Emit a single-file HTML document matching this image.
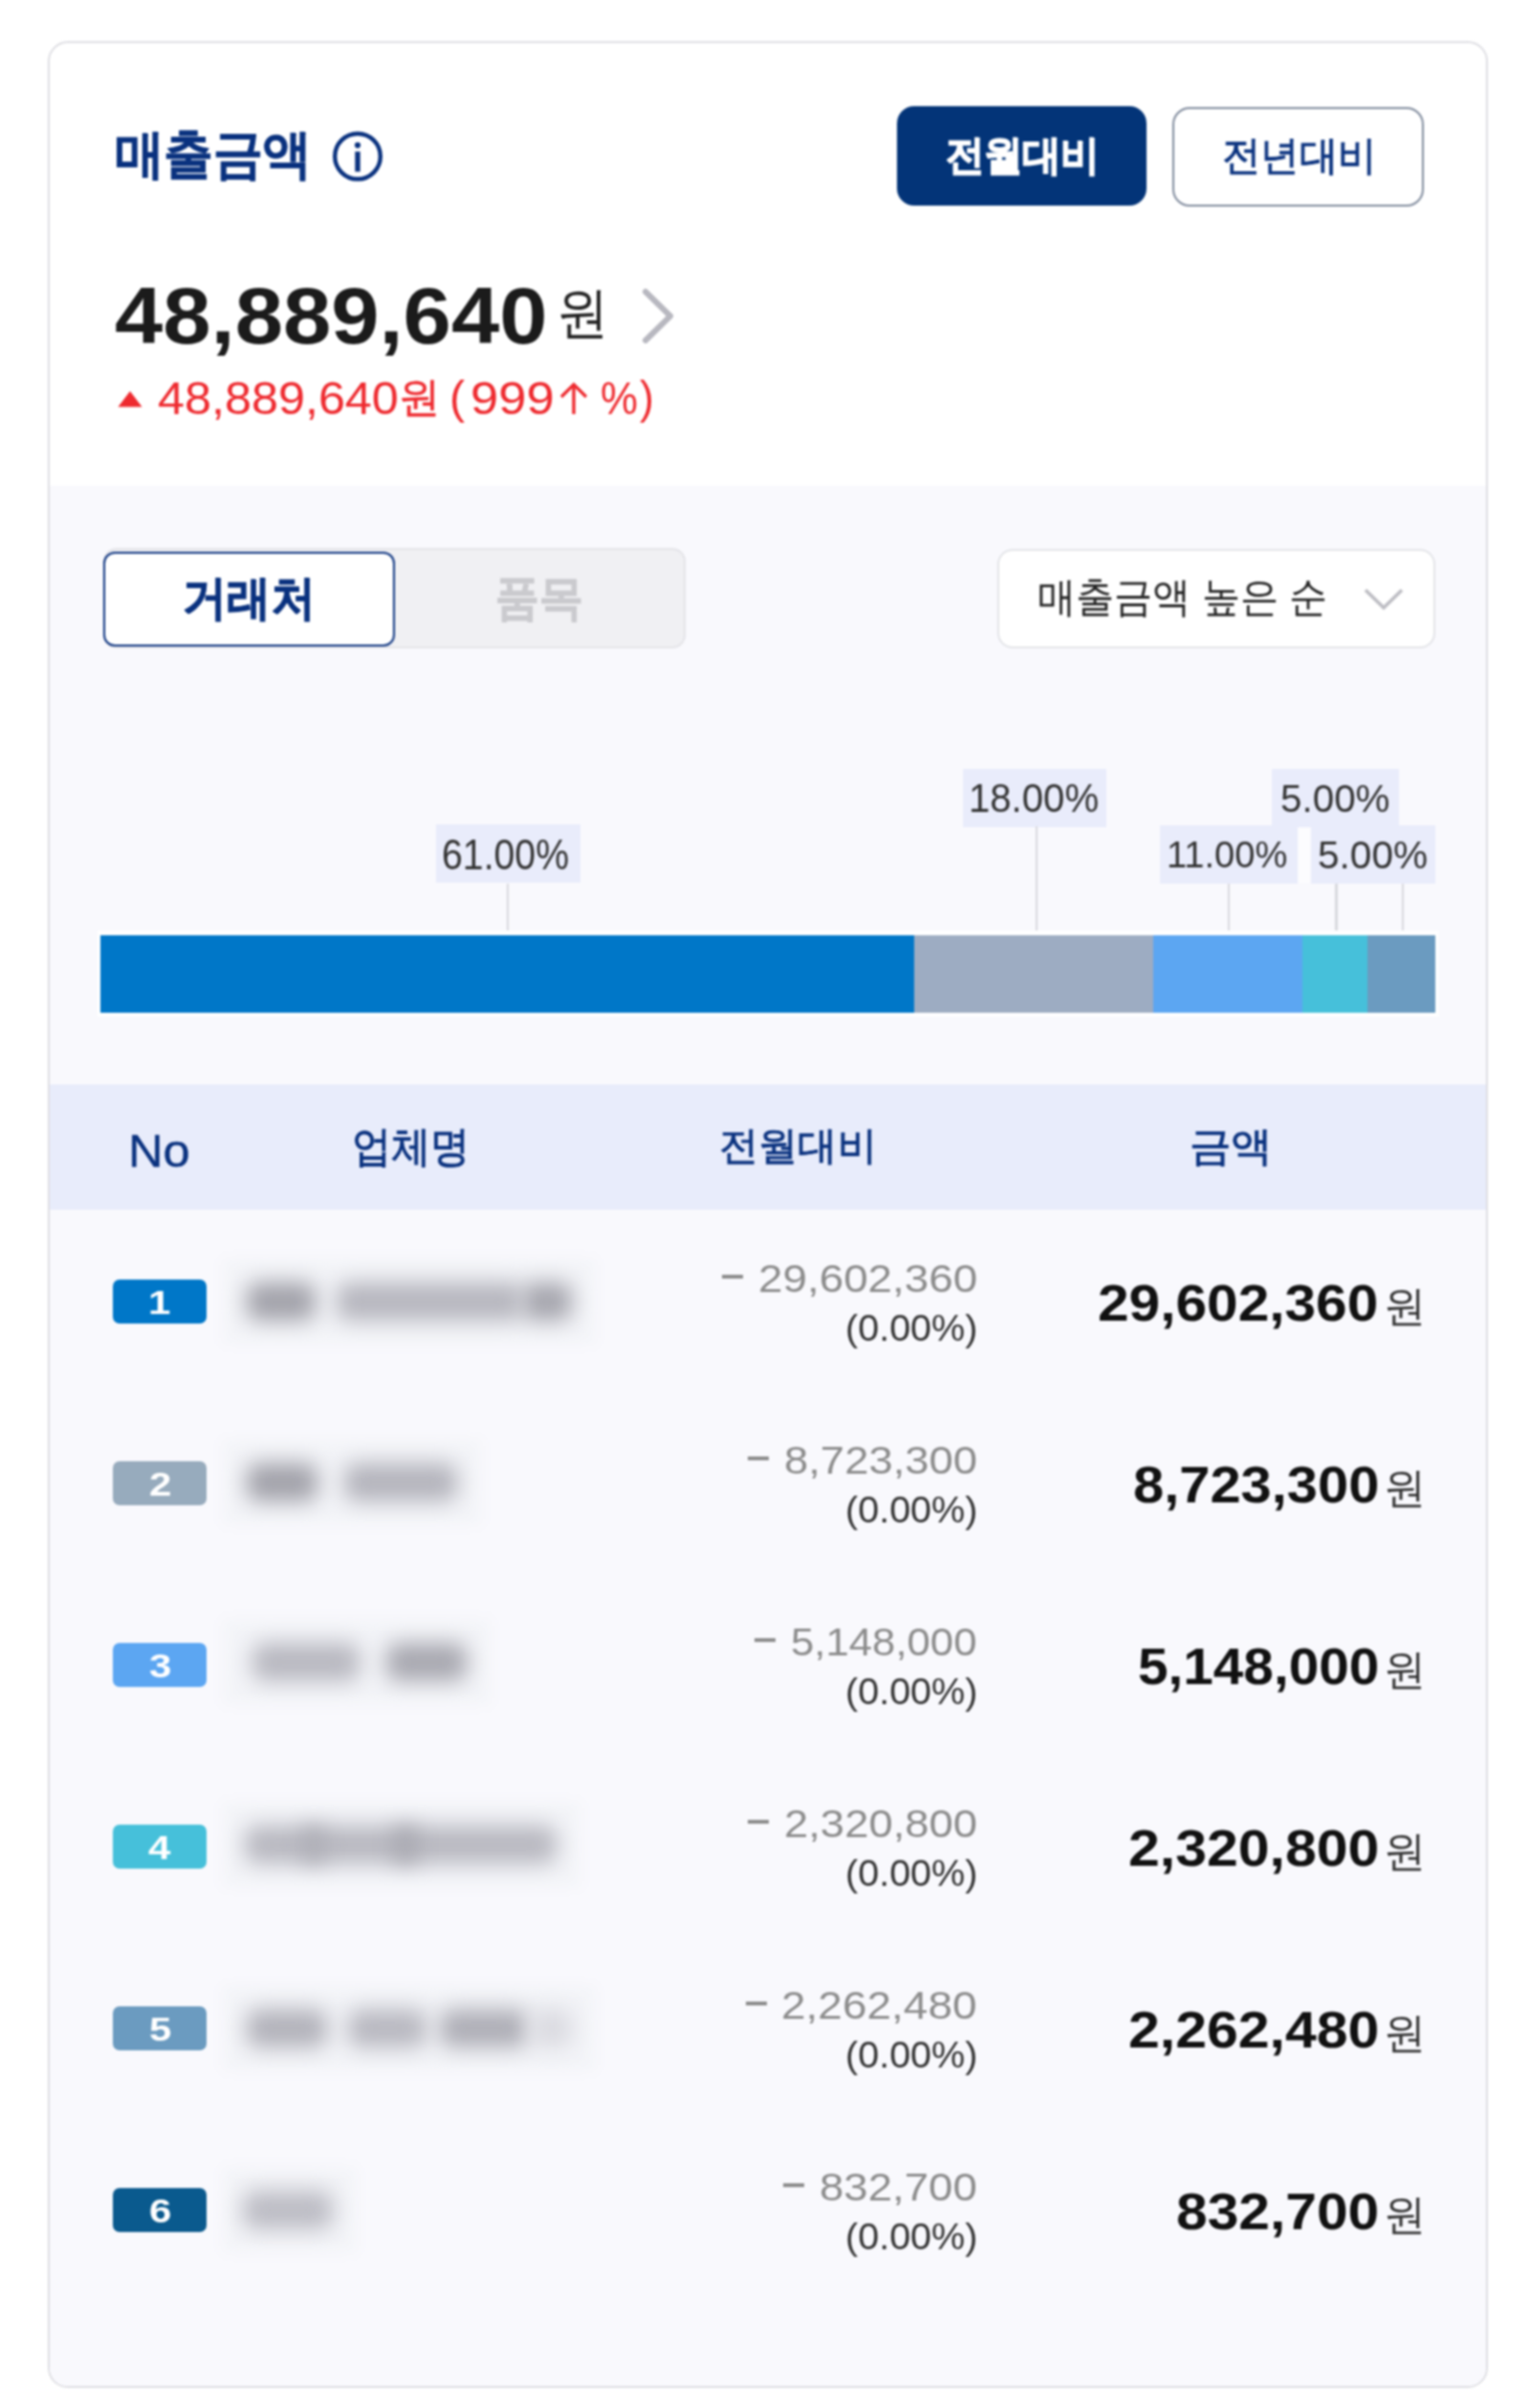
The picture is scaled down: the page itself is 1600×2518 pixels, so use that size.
<!DOCTYPE html>
<html lang="ko">
<head>
<meta charset="utf-8">
<style>
html,body{margin:0;padding:0;background:#fff;}
body{width:1600px;height:2518px;position:relative;overflow:hidden;font-family:"Liberation Sans",sans-serif;}
.a{position:absolute;white-space:nowrap;line-height:1;transform-origin:0 0;}
.box{position:absolute;box-sizing:border-box;}
.blob{position:absolute;height:40px;border-radius:12px;filter:blur(11px);}
.lbl{position:absolute;background:#e9ecfb;height:61px;}
.lead{position:absolute;width:2.5px;background:#d8d9de;}
.seg{position:absolute;top:978px;height:81px;}
.badge{position:absolute;left:118px;width:98px;height:46px;border-radius:7px;}
.dash{position:absolute;height:4px;background:#8c8c8c;width:22px;}
</style>
</head>
<body>
<div id="pg" style="position:absolute;left:0;top:0;width:1600px;height:2518px;filter:blur(1px);">
<div class="box" style="left:50px;top:43px;width:1506px;height:2454px;border:2px solid #dedee3;border-radius:21px;background:#fff;overflow:hidden;"><div style="position:absolute;left:0;top:463px;width:100%;height:2000px;background:#f9f9fd;"></div><div style="position:absolute;left:0;top:1089px;width:100%;height:131px;background:#e8ecfb;"></div></div>
<div class="a" style="left:120.10px;top:134.69px;font-size:54.39px;font-weight:700;color:#0a327f;transform:scale(0.9498,1.0058);-webkit-text-stroke:0.6px currentColor;">매출금액</div>
<svg class="a" style="left:346px;top:136px" width="56" height="56" viewBox="0 0 56 56"><circle cx="28" cy="27.5" r="23.8" fill="none" stroke="#0a327f" stroke-width="4.4"/><circle cx="28" cy="15.8" r="3.1" fill="#0a327f"/><rect x="25.3" y="22.5" width="5.4" height="21" fill="#0a327f"/></svg>
<div class="box" style="left:938px;top:111px;width:261px;height:104px;border-radius:18px;background:#033478;"></div>
<div class="a" style="left:988.55px;top:142.29px;font-size:42.37px;font-weight:700;color:#fff;transform:scale(0.9537,1.0075);-webkit-text-stroke:1.4px currentColor;">전월대비</div>
<div class="box" style="left:1226px;top:111.5px;width:263px;height:104.5px;border-radius:18px;border:2px solid #7f8a9c;background:#fff;"></div>
<div class="a" style="left:1278.13px;top:141.88px;font-size:43.11px;font-weight:400;color:#0a327f;transform:scale(0.9366,0.9725);-webkit-text-stroke:0.9px currentColor;">전년대비</div>
<div class="a" style="left:119.90px;top:289.47px;font-size:82.02px;font-weight:700;color:#1b1b1b;transform:scale(1.1022,1.0188);">48,889,640</div>
<div class="a" style="left:581.96px;top:299.15px;font-size:57.57px;font-weight:400;color:#222;transform:scale(0.9478,1.01);">원</div>
<svg class="a" style="left:666px;top:298px" width="46" height="66" viewBox="0 0 46 66"><polyline points="9,7 35,32.5 9,58" fill="none" stroke="#b8b8c0" stroke-width="6" stroke-linecap="round" stroke-linejoin="round"/></svg>
<svg class="a" style="left:122px;top:408px" width="28" height="19" viewBox="0 0 28 19"><polygon points="1.5,17.5 14,1 26.5,17.5" fill="#ee2a2f"/></svg>
<div class="a" style="left:164.93px;top:393.29px;font-size:46.95px;font-weight:400;color:#ee2a2f;transform:scale(1.072,1.0158);">48,889,640</div>
<div class="a" style="left:417.02px;top:393.35px;font-size:44.0px;font-weight:400;color:#ee2a2f;transform:scale(0.9944,0.9872);-webkit-text-stroke:0.6px currentColor;">원</div>
<div class="a" style="left:470.00px;top:392.33px;font-size:48.29px;font-weight:400;color:#ee2a2f;transform:scale(1.0,0.9778);">(</div>
<div class="a" style="left:492.01px;top:393.00px;font-size:47.9px;font-weight:400;color:#ee2a2f;transform:scale(1.0961,1.0);">999</div>
<div class="a" style="left:627.77px;top:393.00px;font-size:47.9px;font-weight:400;color:#ee2a2f;transform:scale(0.9154,1.0);">%</div>
<div class="a" style="left:668.98px;top:392.11px;font-size:48.51px;font-weight:400;color:#ee2a2f;transform:scale(0.9167,0.9822);">)</div>
<svg class="a" style="left:584px;top:399px" width="32" height="36" viewBox="0 0 32 36"><polyline points="3,16 16,3 29,16" fill="none" stroke="#ee2a2f" stroke-width="3.2"/><line x1="16" y1="3" x2="16" y2="34" stroke="#ee2a2f" stroke-width="3.4"/></svg>
<div class="box" style="left:108px;top:573px;width:609px;height:105px;border-radius:14px;background:#f0f0f3;border:2px solid #e4e4e8;"></div>
<div class="box" style="left:108px;top:576.5px;width:305px;height:99px;border-radius:12px;background:#fff;border:2.5px solid #0a327f;"></div>
<div class="a" style="left:191.10px;top:600.57px;font-size:48.57px;font-weight:700;color:#0a327f;transform:scale(0.9482,1.0109);-webkit-text-stroke:1px currentColor;">거래처</div>
<div class="a" style="left:518.15px;top:601.43px;font-size:49.78px;font-weight:700;color:#cacace;transform:scale(0.9271,0.9915);-webkit-text-stroke:1px currentColor;">품목</div>
<div class="box" style="left:1043px;top:574px;width:458px;height:104px;border-radius:16px;background:#fff;border:2px solid #e3e4e8;"></div>
<div class="a" style="left:1084.80px;top:603.00px;font-size:43.16px;font-weight:400;color:#222;transform:scale(0.9339,1.0);">매출금액 높은 순</div>
<svg class="a" style="left:1424px;top:612px" width="46" height="30" viewBox="0 0 46 30"><polyline points="4,5 23,23.5 42,5" fill="none" stroke="#bdbdc3" stroke-width="3.6"/></svg>
<div class="lbl" style="left:456px;top:862.4px;width:151.0px;"></div>
<div class="lbl" style="left:1006.7px;top:804px;width:150.5px;"></div>
<div class="lbl" style="left:1329.7px;top:804px;width:133.7px;"></div>
<div class="lbl" style="left:1213.2px;top:863px;width:143.8px;"></div>
<div class="lbl" style="left:1371.2px;top:863px;width:129.8px;"></div>
<div class="a" style="left:462.27px;top:871.56px;font-size:42.86px;font-weight:400;color:#333;transform:scale(0.9155,1.0345);">61.00%</div>
<div class="a" style="left:1013.13px;top:813.92px;font-size:42.0px;font-weight:400;color:#333;transform:scale(0.9551,1.0138);">18.00%</div>
<div class="a" style="left:1338.81px;top:815.21px;font-size:40.57px;font-weight:400;color:#333;transform:scale(0.9955,1.0143);">5.00%</div>
<div class="a" style="left:1220.38px;top:874.01px;font-size:39.14px;font-weight:400;color:#333;transform:scale(0.9728,1.0148);">11.00%</div>
<div class="a" style="left:1378.24px;top:873.89px;font-size:39.29px;font-weight:400;color:#333;transform:scale(1.0324,1.0185);">5.00%</div>
<div class="lead" style="left:529.95px;top:923.5px;height:49.3px;"></div>
<div class="lead" style="left:1082.65px;top:864.4px;height:108.4px;"></div>
<div class="lead" style="left:1283.75px;top:923.7px;height:49.1px;"></div>
<div class="lead" style="left:1396.35px;top:923.7px;height:49.1px;"></div>
<div class="lead" style="left:1465.75px;top:923.7px;height:49.1px;"></div>
<div class="box" style="left:1358px;top:866px;width:12px;height:57px;background:#fcfcfe;"></div>
<div class="box" style="left:102px;top:973px;width:1403px;height:89.5px;background:#fff;"></div>
<div class="seg" style="left:104.8px;width:851.2px;background:#0077c8;"></div>
<div class="seg" style="left:956px;width:250.0px;background:#9dacc2;"></div>
<div class="seg" style="left:1206px;width:156.0px;background:#5ca6f2;"></div>
<div class="seg" style="left:1362px;width:68.0px;background:#46c0da;"></div>
<div class="seg" style="left:1430px;width:71.0px;background:#6b9bc0;"></div>
<div class="a" style="left:134.35px;top:1179.52px;font-size:47.76px;font-weight:400;color:#0a327f;transform:scale(1.0618,0.997);-webkit-text-stroke:0.35px currentColor;">No</div>
<div class="a" style="left:368.20px;top:1176.71px;font-size:43.94px;font-weight:400;color:#0a327f;transform:scale(0.935,0.9951);-webkit-text-stroke:0.9px currentColor;">업체명</div>
<div class="a" style="left:751.54px;top:1178.08px;font-size:42.11px;font-weight:400;color:#0a327f;transform:scale(0.9806,0.9744);-webkit-text-stroke:0.9px currentColor;">전월대비</div>
<div class="a" style="left:1243.90px;top:1178.00px;font-size:42.08px;font-weight:400;color:#0a327f;transform:scale(1.0347,1.0);-webkit-text-stroke:0.9px currentColor;">금액</div>
<div class="badge" style="top:1337.5px;background:#0077c8;"></div>
<div class="a" style="left:155.17px;top:1345.40px;font-size:36.51px;font-weight:700;color:#fff;transform:scale(1.1556,0.95);">1</div>
<div class="box" style="left:234px;top:1317px;width:388px;height:88px;background:#f3f4f8;filter:blur(6px);"></div>
<div class="blob" style="left:258px;top:1341px;width:72px;background:#a2a2aa;"></div>
<div class="blob" style="left:352px;top:1341px;width:194px;background:#b6b6be;"></div>
<div class="blob" style="left:546px;top:1341px;width:52px;background:#a6a6ae;"></div>
<div class="a" style="left:792.89px;top:1316.67px;font-size:43.48px;font-weight:400;color:#8c8c8c;transform:scale(1.0537,0.9459);">29,602,360</div>
<div class="dash" style="left:755.00px;top:1332.6px;"></div>
<div class="a" style="left:883.95px;top:1370.39px;font-size:38.51px;font-weight:400;color:#333;transform:scale(1.0267,1.0028);">(0.00%)</div>
<div class="a" style="left:1148.39px;top:1335.18px;font-size:53.14px;font-weight:700;color:#111;transform:scale(1.1031,1.0156);">29,602,360</div>
<div class="a" style="left:1446.50px;top:1345.09px;font-size:44.93px;font-weight:400;color:#333;transform:scale(0.975,0.97);">원</div>
<div class="badge" style="top:1527.5px;background:#97abbd;"></div>
<div class="a" style="left:155.74px;top:1535.40px;font-size:36.51px;font-weight:700;color:#fff;transform:scale(1.1556,0.95);">2</div>
<div class="box" style="left:234px;top:1506px;width:268px;height:88px;background:#f3f4f8;filter:blur(6px);"></div>
<div class="blob" style="left:258px;top:1530px;width:74px;background:#a2a2aa;"></div>
<div class="blob" style="left:360px;top:1530px;width:118px;background:#b4b4bc;"></div>
<div class="a" style="left:819.91px;top:1506.67px;font-size:43.48px;font-weight:400;color:#8c8c8c;transform:scale(1.0447,0.9459);">8,723,300</div>
<div class="dash" style="left:782.00px;top:1522.6px;"></div>
<div class="a" style="left:883.95px;top:1560.39px;font-size:38.51px;font-weight:400;color:#333;transform:scale(1.0267,1.0028);">(0.00%)</div>
<div class="a" style="left:1184.82px;top:1525.18px;font-size:53.14px;font-weight:700;color:#111;transform:scale(1.0888,1.0156);">8,723,300</div>
<div class="a" style="left:1446.50px;top:1535.09px;font-size:44.93px;font-weight:400;color:#333;transform:scale(0.975,0.97);">원</div>
<div class="badge" style="top:1717.5px;background:#5ca6f2;"></div>
<div class="a" style="left:155.74px;top:1725.40px;font-size:36.51px;font-weight:700;color:#fff;transform:scale(1.1556,0.95);">3</div>
<div class="box" style="left:234px;top:1694px;width:278px;height:88px;background:#f3f4f8;filter:blur(6px);"></div>
<div class="blob" style="left:264px;top:1718px;width:112px;background:#b8b8c0;"></div>
<div class="blob" style="left:404px;top:1718px;width:84px;background:#a8a8b0;"></div>
<div class="a" style="left:827.39px;top:1696.67px;font-size:43.48px;font-weight:400;color:#8c8c8c;transform:scale(1.0058,0.9459);">5,148,000</div>
<div class="dash" style="left:789.40px;top:1712.6px;"></div>
<div class="a" style="left:883.95px;top:1750.39px;font-size:38.51px;font-weight:400;color:#333;transform:scale(1.0267,1.0028);">(0.00%)</div>
<div class="a" style="left:1189.87px;top:1715.18px;font-size:53.14px;font-weight:700;color:#111;transform:scale(1.0672,1.0156);">5,148,000</div>
<div class="a" style="left:1446.50px;top:1725.09px;font-size:44.93px;font-weight:400;color:#333;transform:scale(0.975,0.97);">원</div>
<div class="badge" style="top:1907.5px;background:#46c0da;"></div>
<div class="a" style="left:155.17px;top:1915.40px;font-size:36.51px;font-weight:700;color:#fff;transform:scale(1.1556,0.95);">4</div>
<div class="box" style="left:234px;top:1885px;width:372px;height:88px;background:#f3f4f8;filter:blur(6px);"></div>
<div class="blob" style="left:256px;top:1909px;width:326px;background:#b8b8c0;"></div>
<div class="blob" style="left:318px;top:1909px;width:20px;background:#acacb4;"></div>
<div class="blob" style="left:412px;top:1909px;width:24px;background:#a8a8b0;"></div>
<div class="a" style="left:819.91px;top:1886.67px;font-size:43.48px;font-weight:400;color:#8c8c8c;transform:scale(1.0447,0.9459);">2,320,800</div>
<div class="dash" style="left:782.00px;top:1902.6px;"></div>
<div class="a" style="left:883.95px;top:1940.39px;font-size:38.51px;font-weight:400;color:#333;transform:scale(1.0267,1.0028);">(0.00%)</div>
<div class="a" style="left:1179.78px;top:1905.18px;font-size:53.14px;font-weight:700;color:#111;transform:scale(1.1103,1.0156);">2,320,800</div>
<div class="a" style="left:1446.50px;top:1915.09px;font-size:44.93px;font-weight:400;color:#333;transform:scale(0.975,0.97);">원</div>
<div class="badge" style="top:2097.5px;background:#6b9bc0;"></div>
<div class="a" style="left:155.74px;top:2105.40px;font-size:36.51px;font-weight:700;color:#fff;transform:scale(1.1556,0.95);">5</div>
<div class="box" style="left:234px;top:2077px;width:388px;height:88px;background:#f3f4f8;filter:blur(6px);"></div>
<div class="blob" style="left:258px;top:2101px;width:84px;background:#b2b2ba;"></div>
<div class="blob" style="left:364px;top:2101px;width:82px;background:#b8b8c0;"></div>
<div class="blob" style="left:460px;top:2101px;width:92px;background:#aeaeb6;"></div>
<div class="blob" style="left:556px;top:2101px;width:42px;background:#dadae0;"></div>
<div class="a" style="left:817.38px;top:2076.67px;font-size:43.48px;font-weight:400;color:#8c8c8c;transform:scale(1.0579,0.9459);">2,262,480</div>
<div class="dash" style="left:779.50px;top:2092.6px;"></div>
<div class="a" style="left:883.95px;top:2130.39px;font-size:38.51px;font-weight:400;color:#333;transform:scale(1.0267,1.0028);">(0.00%)</div>
<div class="a" style="left:1179.78px;top:2095.18px;font-size:53.14px;font-weight:700;color:#111;transform:scale(1.1103,1.0156);">2,262,480</div>
<div class="a" style="left:1446.50px;top:2105.09px;font-size:44.93px;font-weight:400;color:#333;transform:scale(0.975,0.97);">원</div>
<div class="badge" style="top:2287.5px;background:#0a5a8e;"></div>
<div class="a" style="left:155.74px;top:2295.40px;font-size:36.51px;font-weight:700;color:#fff;transform:scale(1.1556,0.95);">6</div>
<div class="box" style="left:234px;top:2267px;width:138px;height:88px;background:#f3f4f8;filter:blur(6px);"></div>
<div class="blob" style="left:254px;top:2291px;width:94px;background:#bcbcc4;"></div>
<div class="a" style="left:856.90px;top:2266.67px;font-size:43.48px;font-weight:400;color:#8c8c8c;transform:scale(1.0487,0.9459);">832,700</div>
<div class="dash" style="left:819.00px;top:2282.6px;"></div>
<div class="a" style="left:883.95px;top:2320.39px;font-size:38.51px;font-weight:400;color:#333;transform:scale(1.0267,1.0028);">(0.00%)</div>
<div class="a" style="left:1229.59px;top:2285.18px;font-size:53.14px;font-weight:700;color:#111;transform:scale(1.1053,1.0156);">832,700</div>
<div class="a" style="left:1446.50px;top:2295.09px;font-size:44.93px;font-weight:400;color:#333;transform:scale(0.975,0.97);">원</div>
</div>
</body>
</html>
